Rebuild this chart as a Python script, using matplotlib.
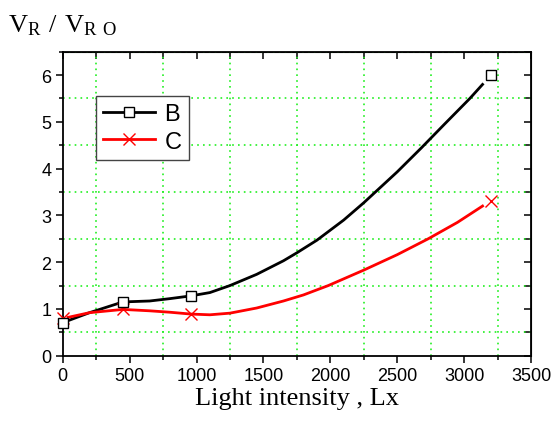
import matplotlib
matplotlib.use('Agg')
import matplotlib.pyplot as plt
from matplotlib.ticker import MultipleLocator

# measured points (markers)
x_pts = [0, 450, 960, 3200]
b_pts = [0.70, 1.14, 1.27, 6.0]
c_pts = [0.80, 0.99, 0.89, 3.30]

# smooth curves
b_curve_x = [50, 200, 450, 650, 800, 960, 1100, 1250, 1450, 1650, 1750, 1900, 2100, 2250, 2500, 2683, 2850, 3043, 3138]
b_curve_y = [0.76, 0.92, 1.15, 1.17, 1.22, 1.28, 1.35, 1.50, 1.74, 2.03, 2.20, 2.47, 2.90, 3.27, 3.93, 4.45, 4.94, 5.50, 5.80]
c_curve_x = [40, 200, 450, 650, 800, 960, 1100, 1250, 1450, 1650, 1800, 1985, 2250, 2500, 2732, 2950, 3138]
c_curve_y = [0.82, 0.92, 0.99, 0.96, 0.93, 0.89, 0.875, 0.91, 1.02, 1.17, 1.30, 1.50, 1.83, 2.16, 2.50, 2.85, 3.20]

sans = 'Liberation Sans'
serif = 'Liberation Serif'

fig = plt.figure(figsize=(5.56, 4.27), dpi=100)
ax = fig.add_axes([0.1128, 0.1646, 0.955 - 0.1128, 0.8766 - 0.1646])

ax.plot(b_curve_x, b_curve_y, color='black', lw=2.0, zorder=3)
ax.plot(c_curve_x, c_curve_y, color='red', lw=2.0, zorder=3)
ax.plot(x_pts, b_pts, ls='none', marker='s', ms=7.5, mfc='white', mec='black', mew=1.0,
        zorder=5, clip_on=False)
ax.plot(x_pts, c_pts, ls='none', marker='x', ms=8.5, mec='red', mew=1.0, zorder=4, clip_on=False)

# legend proxies
hb, = ax.plot([], [], color='black', lw=2.0, marker='s', ms=6.5, mfc='white', mec='black', mew=1.0, label='B')
hc, = ax.plot([], [], color='red', lw=2.0, marker='x', ms=8, mec='red', mew=1.0, label='C')
leg = ax.legend(handles=[hb, hc], loc='upper left', bbox_to_anchor=(0.071, 0.855),
                borderaxespad=0, numpoints=1, handlelength=2.2, handletextpad=0.4,
                fancybox=False, framealpha=1, edgecolor='#444444',
                prop={'family': sans, 'size': 17}, borderpad=0.3, labelspacing=0.25)
leg.get_frame().set_linewidth(1.0)

ax.set_xlim(0, 3500)
ax.set_ylim(0, 6.5)
ax.xaxis.set_major_locator(MultipleLocator(500))
ax.xaxis.set_minor_locator(MultipleLocator(250))
ax.yaxis.set_major_locator(MultipleLocator(1))
ax.yaxis.set_minor_locator(MultipleLocator(0.5))

ax.grid(which='minor', color='#22f022', linestyle=(0, (1, 2.5)), lw=1.2)
ax.grid(which='major', visible=False)

for s in ax.spines.values():
    s.set_linewidth(1.3)

ax.tick_params(which='major', direction='out', length=5, width=1.1, labelsize=13, pad=3)
ax.tick_params(which='minor', direction='out', length=3, width=1.1)
for lab in ax.get_xticklabels() + ax.get_yticklabels():
    lab.set_fontfamily(sans)

top = ax.secondary_xaxis('top')
top.xaxis.set_major_locator(MultipleLocator(250))
top.tick_params(direction='in', length=5, width=1.1, labeltop=False)
right = ax.secondary_yaxis('right')
right.yaxis.set_major_locator(MultipleLocator(0.5))
right.tick_params(direction='in', length=5, width=1.1, labelright=False)

ax.set_xlabel('Light intensity , Lx', fontfamily=serif, fontsize=19, labelpad=2)
fig.text(0.014, 0.925, r'$\mathregular{V_R\ /\ V_{R\ O}}$', fontfamily=serif, fontsize=19)

fig.savefig('out.png', dpi=100)
